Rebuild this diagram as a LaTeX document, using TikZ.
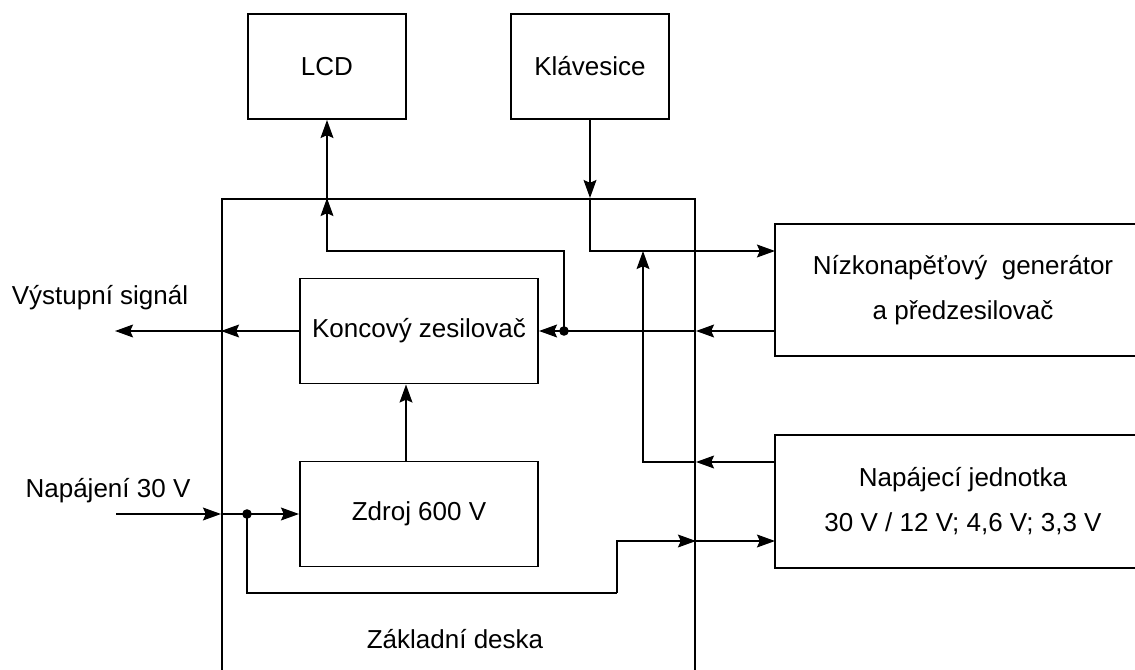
\documentclass[tikz,border=0pt]{standalone}
\usepackage{fontspec}
\setmainfont{Liberation Sans}
\usetikzlibrary{arrows.meta,calc}

\begin{document}
\begin{tikzpicture}[
      blk/.style={draw,line width=1.4pt,inner sep=0pt,align=center,font=\fontsize{18.5}{32}\selectfont},
      lbl/.style={anchor=base,inner sep=0pt,font=\fontsize{18.5}{32}\selectfont},
      arr/.style={-{Stealth[length=4.5mm,width=3.2mm,inset=0.7mm]},line width=1.4pt},
      wire/.style={line width=1.4pt},
      junc/.style={circle,fill,inner sep=0pt,minimum size=2.4mm}
    ]
    \path[use as bounding box,clip] (0,0) rectangle (28.375,-16.75);
    \node[blk,minimum width=11.825cm,minimum height=12.525cm] (board) at (11.4625,-11.2375) {};
    \node[lbl] (boardLbl) at (11.375,-16.2) {Základní deska};
    \node[blk,minimum width=3.95cm,minimum height=2.625cm] (lcd) at (8.175,-1.6625) {LCD};
    \node[blk,minimum width=3.95cm,minimum height=2.625cm] (klav) at (14.75,-1.6625) {Klávesice};
    \node[blk,minimum width=5.95cm,minimum height=2.625cm] (konc) at (10.475,-8.275) {Koncový zesilovač};
    \node[blk,minimum width=5.95cm,minimum height=2.625cm] (zdroj) at (10.475,-12.85) {Zdroj 600 V};
    \node[blk,minimum width=9.4cm,minimum height=3.3cm] (gen) at (24.075,-7.25) {Nízkonapěťový~ generátor\\a předzesilovač};
    \node[blk,minimum width=9.4cm,minimum height=3.325cm] (nap) at (24.075,-12.5375) {Napájecí jednotka\\30 V / 12 V; 4,6 V; 3,3 V};
    \node[lbl] (outLbl) at (2.5,-7.625) {Výstupní signál};
    \node[lbl] (pwrLbl) at (2.7,-12.425) {Napájení 30 V};

    \coordinate (outEnd) at (2.875,-8.275);
    \coordinate (pwrIn) at (2.9,-12.85);
    \coordinate (lcdTurn) at (8.175,-6.275);
    \coordinate (genIn) at (19.375,-6.275);
    \coordinate (upEnd) at (16.075,-6.275);
    \coordinate (napOut) at (19.375,-11.55);
    \coordinate (napIn) at (19.375,-13.525);
    \coordinate (lowTurn) at (15.425,-14.825);
    \node[junc] (dotK) at (14.1,-8.275) {};
    \node[junc] (dotZ) at (6.175,-12.85) {};

    \draw[arr] (lcd.south |- board.north) -- (lcd.south);
    \draw[arr] (dotK.center) |- (lcdTurn) -- (lcd.south |- board.north);
    \draw[arr] (klav.south) -- (klav.south |- board.north);
    \draw[arr] (klav.south |- board.north) |- (genIn);
    \draw[arr] (genIn |- konc.east) -- (board.east |- konc.east);
    \draw[arr] (board.east |- konc.east) -- (konc.east);
    \draw[arr] (konc.west) -- (board.west |- konc.west);
    \draw[arr] (board.west |- konc.west) -- (outEnd);
    \draw[arr] ($(zdroj.north)+(-0.325,0)$) -- ($(konc.south)+(-0.325,0)$);
    \draw[arr] (napOut) -- (board.east |- napOut);
    \draw[arr] (board.east |- napOut) -| (upEnd);
    \draw[arr] (pwrIn) -- (board.west |- pwrIn);
    \draw[arr] (board.west |- pwrIn) -- (zdroj.west);
    \draw[wire] (dotZ.center) |- (lowTurn);
    \draw[arr] (lowTurn) |- (board.east |- napIn);
    \draw[arr] (board.east |- napIn) -- (napIn);
  \end{tikzpicture}
\end{document}
